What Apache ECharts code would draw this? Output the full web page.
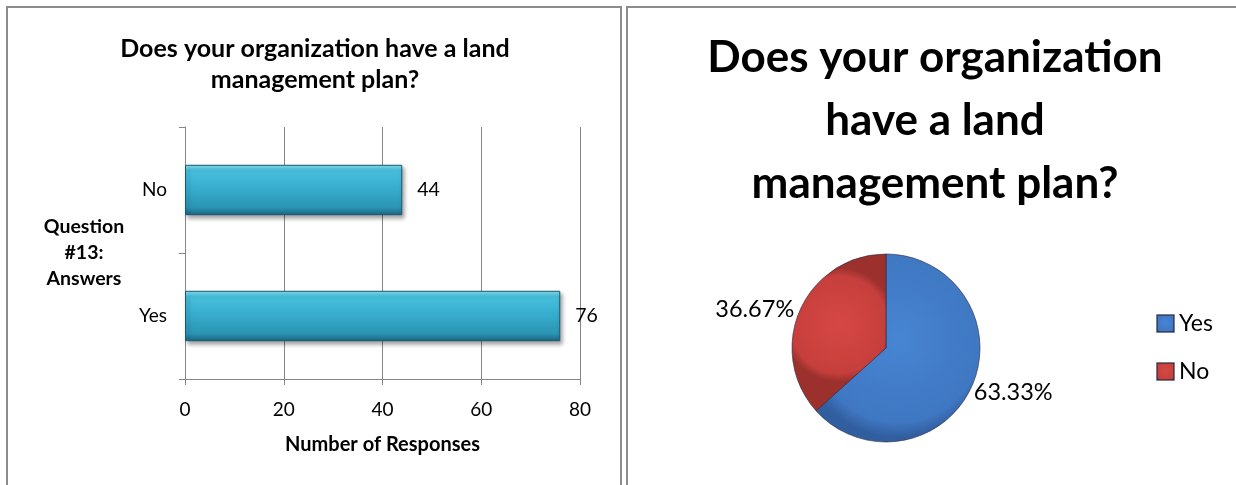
<!DOCTYPE html>
<html>
<head>
<meta charset="utf-8">
<script src="https://cdn.jsdelivr.net/npm/echarts@6/dist/echarts.min.js"></script>
<style>
html,body{margin:0;padding:0;background:#fff;}
#chart{width:1236px;height:485px;}
</style>
</head>
<body>
<div id="chart"></div>
<script>
// ---- data ----
const barTitle = 'Does your organization have a land\nmanagement plan?';
const pieTitle = 'Does your organization\nhave a land\nmanagement plan?';
const categories = ['Yes', 'No'];
const responses = [76, 44];
const pieNames = ['Yes', 'No'];
const pieValues = [76, 44];
const xTicks = [0, 20, 40, 60, 80];
const yAxisName = 'Question\n#13:\nAnswers';
const xAxisName = 'Number of Responses';

const FONT = 'Lato';
const chart = echarts.init(document.getElementById('chart'), null, {renderer: 'canvas'});

const barColor = {
  type: 'linear', x: 0, y: 0, x2: 0, y2: 1,
  colorStops: [
    {offset: 0, color: '#86e6f7'},
    {offset: 0.12, color: '#46bfdc'},
    {offset: 0.5, color: '#36abcc'},
    {offset: 0.85, color: '#2b94b3'},
    {offset: 1, color: '#1b6480'}
  ]
};
const blueGrad = {
  type: 'radial', x: 0.5, y: 0.45, r: 0.6,
  colorStops: [
    {offset: 0, color: '#4785d2'},
    {offset: 0.85, color: '#3f77c2'},
    {offset: 1, color: '#315e9e'}
  ]
};
const redGrad = {
  type: 'radial', x: 0.5, y: 0.45, r: 0.6,
  colorStops: [
    {offset: 0, color: '#d64744'},
    {offset: 0.85, color: '#c63f3c'},
    {offset: 1, color: '#9c302d'}
  ]
};

const option = {
  animation: false,
  backgroundColor: '#fff',
  textStyle: {fontFamily: FONT},
  title: [
    {
      text: barTitle, left: 310, top: 28, textAlign: 'center',
      textStyle: {fontFamily: FONT, fontWeight: 'bold', fontSize: 25, lineHeight: 31, color: '#000'}
    },
    {
      text: pieTitle, left: 930, top: 21, textAlign: 'center',
      textStyle: {fontFamily: FONT, fontWeight: 'bold', fontSize: 44, lineHeight: 63, color: '#000'}
    }
  ],
  legend: {
    orient: 'vertical', left: 1156, top: 312, padding: 0,
    itemWidth: 17, itemHeight: 17, itemGap: 25, icon: 'rect',
    data: pieNames,
    textStyle: {fontFamily: FONT, fontSize: 23, color: '#000'}
  },
  grid: {left: 185, right: 656, top: 127, bottom: 106},
  xAxis: {
    type: 'value', min: xTicks[0], max: xTicks[xTicks.length - 1], interval: 20,
    name: xAxisName, nameLocation: 'middle', nameGap: 56,
    nameTextStyle: {fontFamily: FONT, fontWeight: 'bold', fontSize: 20, color: '#000'},
    axisLine: {show: true, lineStyle: {color: '#868686', width: 1}},
    axisTick: {show: true, length: 6, lineStyle: {color: '#868686'}},
    axisLabel: {fontFamily: FONT, fontSize: 19, color: '#000', margin: 21},
    splitLine: {show: true, lineStyle: {color: '#868686', width: 1}}
  },
  yAxis: {
    type: 'category', data: categories,
    name: yAxisName, nameLocation: 'middle', nameGap: 101, nameRotate: 0,
    nameTextStyle: {fontFamily: FONT, fontWeight: 'bold', fontSize: 19.5, lineHeight: 26, color: '#000', align: 'center', verticalAlign: 'middle'},
    axisLine: {show: true, lineStyle: {color: '#868686', width: 1}},
    axisTick: {show: true, length: 6, lineStyle: {color: '#868686'}},
    axisLabel: {fontFamily: FONT, fontSize: 19, color: '#000', margin: 18}
  },
  series: [
    {
      type: 'bar', data: responses, barCategoryGap: '60%',
      itemStyle: {
        color: barColor, borderColor: '#1a5870', borderWidth: 1,
        shadowColor: 'rgba(0,0,0,0.35)', shadowBlur: 4, shadowOffsetX: 2, shadowOffsetY: 3
      },
      label: {show: true, position: 'right', distance: 15, fontFamily: FONT, fontSize: 19.5, color: '#000'}
    },
    {
      type: 'pie', center: [886, 348], radius: 94, startAngle: 90, clockwise: true,
      data: pieNames.map((n, i) => ({
        name: n, value: pieValues[i],
        itemStyle: {color: i === 0 ? blueGrad : redGrad}
      })),
      itemStyle: {borderColor: 'rgba(40,40,60,0.6)', borderWidth: 1},
      label: {
        show: true, position: 'outside', fontFamily: FONT, fontSize: 23.5, color: '#000',
        formatter: p => (p.value / pieValues.reduce((a, b) => a + b, 0) * 100).toFixed(2) + '%'
      },
      labelLine: {show: false, length: 1, length2: 0},
      labelLayout: p => (p.dataIndex === 0 ? {dy: 6, dx: -4} : {}),
      emphasis: {disabled: true}
    }
  ],
  graphic: [
    {type: 'rect', shape: {x: 7, y: 7, width: 614, height: 520}, style: {fill: 'none', stroke: '#8c8c8c', lineWidth: 2}, silent: true},
    {type: 'rect', shape: {x: 627, y: 7, width: 640, height: 520}, style: {fill: 'none', stroke: '#8c8c8c', lineWidth: 2}, silent: true}
  ]
};
chart.setOption(option);
</script>
</body>
</html>
